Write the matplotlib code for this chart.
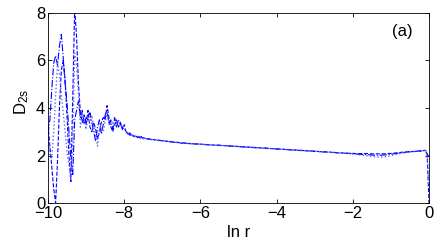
import numpy as np
import matplotlib
matplotlib.use("Agg")
from matplotlib import pyplot as plt

plt.rcParams['font.family'] = ['Liberation Sans', 'DejaVu Sans']
plt.rcParams['mathtext.fontset'] = 'custom'
plt.rcParams['mathtext.rm'] = 'Liberation Sans'
plt.rcParams['mathtext.it'] = 'Liberation Sans'

# ln r grid: fine in the noisy part, coarser further on
ln_r_noisy = np.round(np.linspace(-10.0, -7.5, 51), 2)
ln_r_smooth = np.round(np.linspace(-7.4, -0.1, 74), 2)
ln_r_end = [-0.05, 0.0]
ln_r = np.concatenate([ln_r_noisy, ln_r_smooth, ln_r_end])

# three estimates of D2s
d2s_a_noisy = [3.3, 2.4, 1.5, 0.6, 0.0, 1.8, 4.0, 5.6, 6.0, 5.2,
               3.6, 2.0, 0.9, 4.5, 8.2, 7.0, 5.0, 3.8, 3.4, 3.7,
               3.3, 3.9, 3.2, 3.0, 3.4, 3.1, 2.7, 3.0, 3.4, 3.6,
               3.5, 4.1, 3.6, 3.2, 3.0, 3.3, 3.5, 3.2, 3.4, 3.1,
               3.3, 3.0, 2.95, 2.85, 2.9, 2.8, 2.85, 2.75, 2.8, 2.75,
               2.75]
d2s_b_noisy = [2.9, 3.5, 4.8, 5.9, 6.2, 5.8, 6.6, 7.1, 6.1, 5.0,
               4.2, 3.0, 1.9, 1.2, 3.5, 3.9, 4.3, 3.6, 3.9, 3.3,
               3.6, 3.5, 3.8, 3.4, 3.0, 2.6, 3.2, 3.5, 2.9, 3.3,
               3.7, 3.9, 3.3, 3.5, 3.1, 3.6, 3.2, 3.5, 3.3, 3.2,
               3.1, 3.05, 2.9, 2.95, 2.85, 2.8, 2.8, 2.8, 2.75, 2.8,
               2.7]
d2s_c_noisy = [3.0, 2.0, 1.9, 3.0, 4.5, 5.9, 5.4, 4.6, 3.8, 3.0,
               2.1, 1.6, 1.0, 2.5, 6.3, 5.8, 4.6, 3.2, 3.8, 3.5,
               3.1, 3.6, 3.4, 3.7, 3.2, 2.9, 2.4, 3.1, 3.2, 3.0,
               3.4, 3.8, 3.4, 3.3, 3.4, 3.2, 3.4, 3.3, 3.2, 3.3,
               3.15, 2.95, 3.0, 2.9, 2.85, 2.85, 2.75, 2.8, 2.8, 2.7,
               2.75]

d2s_a_smooth = [2.70, 2.69, 2.66, 2.65, 2.62, 2.61, 2.58, 2.57, 2.55,
                2.53, 2.52, 2.50, 2.50, 2.48, 2.48, 2.46, 2.46, 2.44, 2.44,
                2.43, 2.42, 2.41, 2.40, 2.39, 2.38, 2.37, 2.36, 2.35, 2.34,
                2.33, 2.32, 2.31, 2.30, 2.29, 2.28, 2.27, 2.26, 2.25, 2.24,
                2.23, 2.22, 2.21, 2.20, 2.19, 2.18, 2.17, 2.16, 2.15, 2.14,
                2.13, 2.12, 2.11, 2.10, 2.09, 2.09, 2.08, 2.08, 2.08, 2.08,
                2.07, 2.07, 2.07, 2.07, 2.08, 2.09, 2.10, 2.12, 2.14, 2.15,
                2.16, 2.17, 2.18, 2.19, 2.22]
d2s_b_smooth = [2.71, 2.67, 2.67, 2.63, 2.63, 2.59, 2.59, 2.55, 2.56,
                2.52, 2.52, 2.51, 2.49, 2.49, 2.47, 2.47, 2.45, 2.45, 2.43,
                2.43, 2.41, 2.41, 2.39, 2.39, 2.37, 2.37, 2.35, 2.35, 2.33,
                2.33, 2.31, 2.31, 2.29, 2.29, 2.27, 2.27, 2.25, 2.25, 2.23,
                2.23, 2.21, 2.21, 2.19, 2.19, 2.17, 2.17, 2.15, 2.15, 2.13,
                2.13, 2.11, 2.11, 2.09, 2.09, 2.07, 2.06, 2.05, 2.04, 2.03,
                2.02, 2.01, 2.01, 2.02, 2.03, 2.05, 2.08, 2.10, 2.12, 2.14,
                2.16, 2.17, 2.18, 2.20, 2.21]
d2s_c_smooth = [2.72, 2.68, 2.65, 2.64, 2.61, 2.60, 2.57, 2.56, 2.54,
                2.52, 2.51, 2.51, 2.49, 2.48, 2.47, 2.46, 2.45, 2.45, 2.43,
                2.42, 2.42, 2.40, 2.40, 2.38, 2.38, 2.36, 2.36, 2.34, 2.34,
                2.32, 2.32, 2.30, 2.30, 2.28, 2.28, 2.26, 2.26, 2.24, 2.24,
                2.22, 2.22, 2.20, 2.20, 2.18, 2.18, 2.16, 2.16, 2.14, 2.14,
                2.12, 2.12, 2.10, 2.10, 2.08, 2.06, 2.04, 2.02, 2.00, 1.98,
                1.96, 1.94, 1.93, 1.94, 1.96, 1.99, 2.03, 2.07, 2.10, 2.13,
                2.15, 2.16, 2.18, 2.19, 2.22]

d2s_a_end = [2.15, 0.0]
d2s_b_end = [2.05, 1.95]
d2s_c_end = [2.0, 0.7]

d2s_a = d2s_a_noisy + d2s_a_smooth + d2s_a_end
d2s_b = d2s_b_noisy + d2s_b_smooth + d2s_b_end
d2s_c = d2s_c_noisy + d2s_c_smooth + d2s_c_end

fig = plt.figure(figsize=(4.36, 2.45), dpi=100)
ax = fig.add_axes([48/436, 42/245, 381/436, 190/245])

ax.plot(ln_r, d2s_a, color='blue', ls='--', lw=0.8)
ax.plot(ln_r, d2s_b, color='blue', ls='-.', lw=0.8)
ax.plot(ln_r, d2s_c, color=(0.4, 0.4, 1.0), ls=':', lw=1.0)

ax.set_xlim(-10, 0)
ax.set_ylim(0, 8)
ax.set_xticks([-10, -8, -6, -4, -2, 0])
ax.set_yticks([0, 2, 4, 6, 8])
ax.set_xticklabels(['\u221210', '\u22128', '\u22126', '\u22124', '\u22122', '0'])
ax.tick_params(direction='in', top=True, right=True, labelsize=12,
               length=3, width=0.6, pad=2)
for sp in ax.spines.values():
    sp.set_linewidth(0.6)

ax.set_xlabel('ln r', fontsize=12)
ax.set_ylabel(r'D$_{\mathrm{2s}}$', fontsize=12)
ax.xaxis.set_label_coords(0.5, -0.115)
ax.yaxis.set_label_coords(-0.045, 0.53)
ax.text(0.929, 0.905, '(a)', transform=ax.transAxes, fontsize=12,
        ha='center', va='center')

fig.savefig('out.png', dpi=100)
